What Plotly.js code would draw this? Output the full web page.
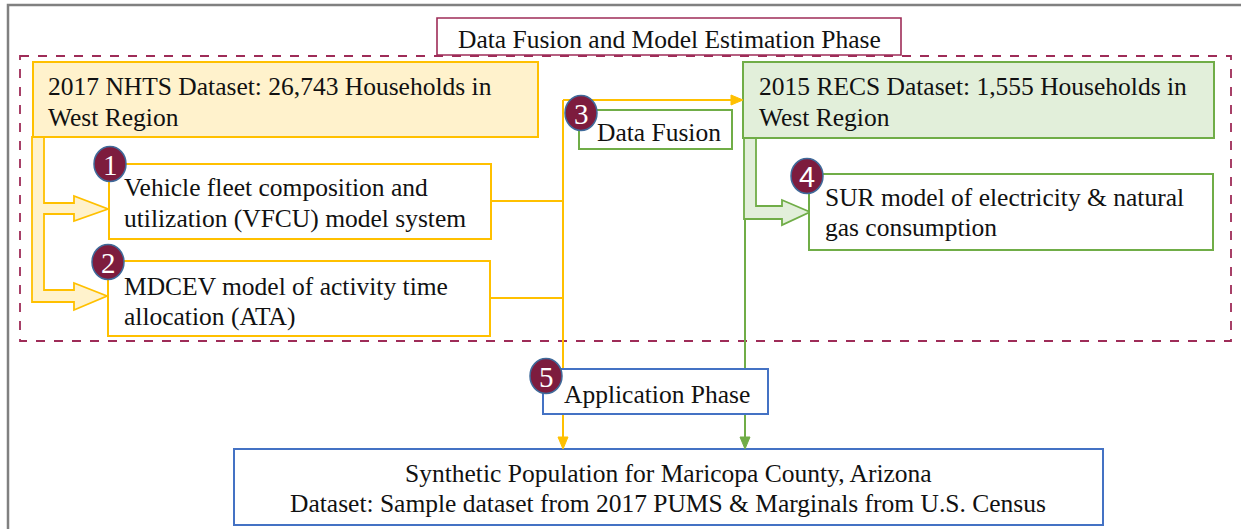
<!DOCTYPE html>
<html><head><meta charset="utf-8">
<script src="https://cdn.plot.ly/plotly-3.0.1.min.js"></script>
<style>html,body{margin:0;padding:0;background:#fff}#chart{width:1241px;height:529px}</style>
</head><body><div id="chart"></div>
<script>
// ---- content (text) ----
const phaseTitles = ["Data Fusion and Model Estimation Phase", "Application Phase"];
const datasetNames = ["2017 NHTS Dataset: 26,743 Households in", "2015 RECS Dataset: 1,555 Households in"];
const datasetRegions = ["West Region", "West Region"];
const modelLine1 = ["Vehicle fleet composition and", "MDCEV model of activity time", "SUR model of electricity & natural"];
const modelLine2 = ["utilization (VFCU) model system", "allocation (ATA)", "gas consumption"];
const fusionLabel = ["Data Fusion"];
const stepNumbers = ["1", "2", "3", "4", "5"];
const outputLines = ["Synthetic Population for Maricopa County, Arizona",
                     "Dataset: Sample dataset from 2017 PUMS & Marginals from U.S. Census"];

// ---- styles ----
const YEL = '#ffc000', YELF = '#fff2cc', GRN = '#70ad47', GRNF = '#e2efda', BLU = '#4472c4';
const MAR = '#9e2c58', BADGE = '#7d1c3e', BADGE_LINE = '#3f6a9a';
const SERIF = 'Liberation Serif, Times New Roman, serif';
const FS = 25.5;

const shapes = [];
function rect(x0, y0, x1, y1, line, fill, width, dash) {
  shapes.push({type: 'rect', xref: 'x', yref: 'y', x0, y0, x1, y1,
    line: {color: line, width: width || 2, dash: dash || 'solid'}, fillcolor: fill || 'rgba(0,0,0,0)', layer: 'above'});
}
function seg(x0, y0, x1, y1, color, width) {
  shapes.push({type: 'line', xref: 'x', yref: 'y', x0, y0, x1, y1, line: {color, width: width || 2}, layer: 'above'});
}
function path(p, line, fill, width) {
  shapes.push({type: 'path', xref: 'x', yref: 'y', path: p, line: {color: line, width: width || 2}, fillcolor: fill, layer: 'above'});
}
function circ(cx, cy, rx, ry) {
  shapes.push({type: 'circle', xref: 'x', yref: 'y', x0: cx - rx, x1: cx + rx, y0: cy - ry, y1: cy + ry,
    line: {color: BADGE_LINE, width: 1.5}, fillcolor: BADGE, layer: 'above'});
}

// frame and phase containers
rect(8, 5, 1270, 560, '#808080', null, 2.5);
rect(20, 56, 1231, 341, MAR, null, 1.8, 'dash');
rect(437, 18, 901, 55, MAR, '#ffffff', 1.6);

// connector lines
seg(563, 100, 563, 440, YEL);
seg(491, 201, 563, 201, YEL);
seg(490, 298, 563, 298, YEL);
seg(563, 100, 733, 100, YEL);
seg(745, 138, 745, 440, GRN);

// block arrows
path('M 32,137 L 32,302 L 74,302 L 74,310 L 107,296 L 74,283 L 74,290 L 44,290 L 44,214 L 74,214 L 74,221 L 108,209 L 74,196 L 74,203 L 44,203 L 44,137 Z', YEL, YELF, 1.8);
path('M 744,138 L 744,219 L 782,219 L 782,225 L 810,212 L 782,200 L 782,206 L 756,206 L 756,138 Z', GRN, GRNF, 1.8);

// boxes
rect(33, 62, 538, 137, YEL, YELF);
rect(743, 62, 1214, 138, GRN, GRNF);
rect(109, 164, 491, 239, YEL, '#ffffff');
rect(108, 261, 490, 336, YEL, '#ffffff');
rect(579, 110, 732, 149, GRN, '#ffffff');
rect(809, 174, 1213, 250, GRN, '#ffffff');
rect(543, 369, 768, 414, BLU, '#ffffff');
rect(234, 449, 1103, 525, BLU, '#ffffff');

// arrowheads
path('M 731,95 L 743,100 L 731,105 Z', YEL, YEL, 1);
path('M 558,437 L 563,449 L 568,437 Z', YEL, YEL, 1);
path('M 740,437 L 745,449 L 750,437 Z', GRN, GRN, 1);

// badges
const badgePos = [[110, 164], [108, 262], [581, 113], [807, 176], [546, 376]];
badgePos.forEach(p => circ(p[0], p[1], 16, 17.5));

// ---- text ----
const ann = [];
function txt(text, x, y, xanchor, size, color, family) {
  ann.push({text, x, y, xref: 'x', yref: 'y', xanchor: xanchor || 'left', yanchor: 'middle', showarrow: false,
    font: {family: family || SERIF, size: size || FS, color: color || '#111111'}});
}
txt(phaseTitles[0], 669, 39, 'center');
txt(datasetNames[0], 46, 86);
txt(datasetRegions[0], 46, 117);
txt(datasetNames[1], 757, 86);
txt(datasetRegions[1], 757, 117);
txt(modelLine1[0], 122, 187);
txt(modelLine2[0], 122, 218);
txt(modelLine1[1], 122, 286);
txt(modelLine2[1], 122, 316);
txt(modelLine1[2], 823, 197);
txt(modelLine2[2], 823, 227);
txt(fusionLabel[0], 595, 132);
txt(phaseTitles[1], 562, 394);
txt(outputLines[0], 668, 473, 'center');
txt(outputLines[1], 668, 503, 'center');
stepNumbers.forEach((n, i) => {
  txt(n, badgePos[i][0], badgePos[i][1] + 1, 'center', 29, '#ffffff',
      n === '4' ? 'Liberation Sans, Arial, sans-serif' : SERIF);
});

const layout = {
  width: 1241, height: 529,
  margin: {l: 0, r: 0, t: 0, b: 0},
  paper_bgcolor: '#ffffff', plot_bgcolor: '#ffffff',
  showlegend: false,
  xaxis: {range: [0, 1241], visible: false, fixedrange: true},
  yaxis: {range: [529, 0], visible: false, fixedrange: true},
  shapes: shapes,
  annotations: ann
};
Plotly.newPlot('chart', [{x: [], y: [], type: 'scatter', mode: 'markers'}], layout, {staticPlot: true, displayModeBar: false});
</script></body></html>
